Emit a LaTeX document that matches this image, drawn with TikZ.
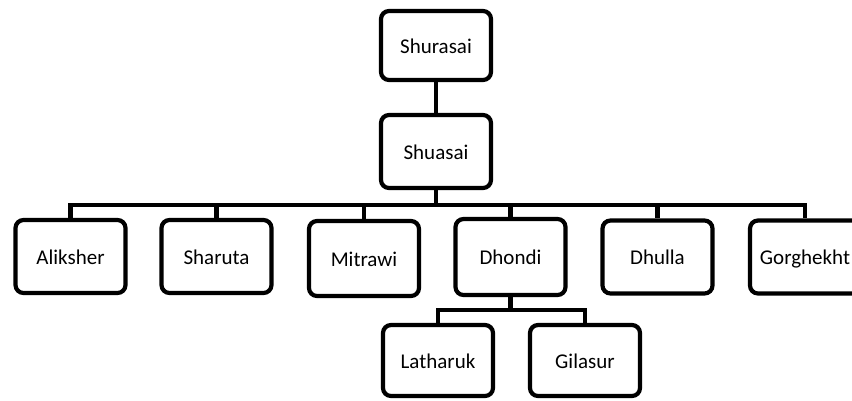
\documentclass[tikz,border=0pt]{standalone}
\usepackage{fontspec}
\setmainfont{Carlito}
\begin{document}
\begin{tikzpicture}[x=1pt,y=-1pt,
  box/.style={draw=black, line width=4.2pt, rounded corners=8pt, fill=white,
    minimum width=110pt, minimum height=73pt, inner sep=0pt,
    text height=15pt, text depth=0pt,
    font=\fontsize{21}{25}\selectfont},
  conn/.style={draw=black, line width=4.2pt}]
\useasboundingbox (0,0) rectangle (852,400);
\clip (0,0) rectangle (852,400);
\fill[white] (0,0) rectangle (852,400);
% nodes
\node[box, minimum height=69pt] (shurasai) at (436,45.5) {Shurasai};
\node[box] (shuasai) at (436,151.5) {Shuasai};
\node[box] (aliksher) at (70.5,256.5) {Aliksher};
\node[box] (sharuta) at (216.5,256.5) {Sharuta};
\node[box, minimum height=75pt] (mitrawi) at (364,258.5) {Mitrawi};
\node[box, minimum height=76pt] (dhondi) at (510.5,257) {Dhondi};
\node[box] (dhulla) at (657.5,257) {Dhulla};
\node[box] (gorghekht) at (805,257) {Gorghekht};
\node[box, minimum height=71pt] (latharuk) at (438,360.5) {Latharuk};
\node[box, minimum height=71pt] (gilasur) at (585,360.5) {Gilasur};
% buses
\coordinate (busA) at (436,205);
\coordinate (busB) at (510.5,310);
% connectors
\draw[conn] (shurasai.south) -- (shuasai.north);
\draw[conn] (shuasai.south) -- (busA);
\foreach \c in {aliksher,sharuta,mitrawi,dhondi,dhulla,gorghekht}
  \draw[conn] (busA) -| (\c.north);
\draw[conn] (dhondi.south) -- (busB);
\draw[conn] (busB) -| (latharuk.north);
\draw[conn] (busB) -| (gilasur.north);
\end{tikzpicture}
\end{document}
